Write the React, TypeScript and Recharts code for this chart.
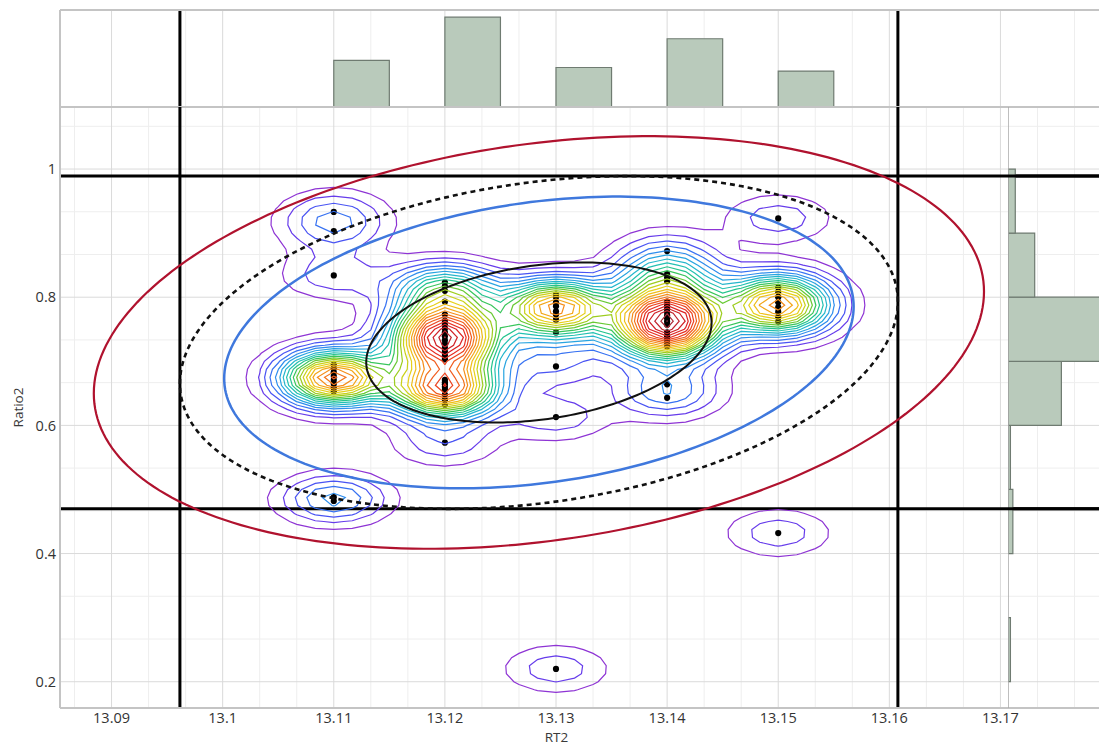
import React from "react";
import {
  ComposedChart,
  Scatter,
  XAxis,
  YAxis,
  CartesianGrid,
  ReferenceLine,
  ReferenceArea,
} from "recharts";

// ---------------- data ----------------
const RT2_COLUMNS = [13.11, 13.12, 13.13, 13.14, 13.15];

const RATIO2_AT_1311 = [0.933, 0.903, 0.834, 0.695, 0.689, 0.683, 0.677, 0.671, 0.665, 0.659, 0.653, 0.488, 0.482];
const RATIO2_AT_1312 = [
  0.823, 0.817, 0.81, 0.793, 0.773, 0.763, 0.757, 0.751, 0.745, 0.739, 0.733, 0.727, 0.721, 0.715, 0.709, 0.703,
  0.671, 0.667, 0.664, 0.66, 0.656, 0.648, 0.64, 0.632, 0.573,
];
const RATIO2_AT_1313 = [0.804, 0.8, 0.792, 0.786, 0.778, 0.773, 0.765, 0.745, 0.692, 0.613, 0.22];
const RATIO2_AT_1314 = [
  0.872, 0.836, 0.831, 0.825, 0.793, 0.787, 0.782, 0.777, 0.772, 0.767, 0.762, 0.757, 0.745, 0.739, 0.734, 0.729,
  0.723, 0.664, 0.643,
];
const RATIO2_AT_1315 = [0.923, 0.815, 0.808, 0.8, 0.792, 0.784, 0.777, 0.769, 0.762, 0.432];
const RATIO2_BY_COLUMN = [RATIO2_AT_1311, RATIO2_AT_1312, RATIO2_AT_1313, RATIO2_AT_1314, RATIO2_AT_1315];

// marginal histogram along RT2 (bins start at each value)
const RT2_BIN_START = [13.11, 13.12, 13.13, 13.14, 13.15];
const RT2_BIN_COUNT = [13, 25, 11, 19, 10];
const RT2_BIN_WIDTH = 0.005;

// marginal histogram along Ratio2
const RATIO2_BIN_LOW = [0.2, 0.3, 0.4, 0.5, 0.6, 0.7, 0.8, 0.9];
const RATIO2_BIN_COUNT = [1, 0, 2, 1, 22, 38, 11, 3];
const RATIO2_BIN_WIDTH = 0.1;

// axes
const X_TICKS = [13.09, 13.1, 13.11, 13.12, 13.13, 13.14, 13.15, 13.16, 13.17];
const X_TICK_LABELS = ["13.09", "13.1", "13.11", "13.12", "13.13", "13.14", "13.15", "13.16", "13.17"];
const Y_TICKS = [0.2, 0.4, 0.6, 0.8, 1];
const Y_TICK_LABELS = ["0.2", "0.4", "0.6", "0.8", "1"];
const X_DOMAIN: [number, number] = [13.08536, 13.17887];
const Y_DOMAIN: [number, number] = [0.159, 1.0968];
const TOP_HIST_DOMAIN: [number, number] = [0, 27];
const RIGHT_HIST_DOMAIN: [number, number] = [0, 37.5];

// confidence ellipses (probability levels) and limit box
const ELLIPSE_LEVELS = [
  { p: 0.99, stroke: "#b0122e", width: 2.2, dash: undefined as string | undefined },
  { p: 0.95, stroke: "#111111", width: 2.6, dash: "5 4" },
  { p: 0.9, stroke: "#3f78dd", width: 2.5, dash: undefined },
  { p: 0.5, stroke: "#111111", width: 2, dash: undefined },
];
const LIMIT_PROB = 0.95;

// density contours: spacing given as a fraction of one kernel's peak height
const LEVEL_STEP = 1 / 2.75;
const BANDWIDTH_SCALE = 0.24;
const GRID_X0 = 13.08;
const GRID_DX = 0.01 / 6;
const GRID_NX = 64;
const GRID_Y0 = 0.1;
const GRID_DY = 0.0125;
const GRID_NY = 85;
const CONTOUR_COLORS = [
  "#8e34d4", "#5a3ff2", "#3a68f4", "#2e8cee", "#27aadc", "#22bfc0", "#22c492", "#3cc550", "#86cb22", "#c6d11a",
  "#ead01a", "#f2b41a", "#f5921a", "#f3721c", "#f0521f", "#e83222", "#dc2224", "#cc2028", "#b32a36", "#9c3a4c",
];

// ---------------- layout ----------------
const W = 1099;
const H = 746;
const PLOT_LEFT = 60;
const PLOT_TOP = 107;
const TOP_PANEL_TOP = 10;
const X_AXIS_H = 38;
const RIGHT_HIST_LEFT = 1008;
const FONT = "'Open Sans', 'Noto Sans', sans-serif";

type Pt = { x: number; y: number };

const POINTS: Pt[] = RT2_COLUMNS.flatMap((x, i) => RATIO2_BY_COLUMN[i].map((y) => ({ x, y })));

// ---------------- statistics ----------------
function summary(pts: Pt[]) {
  const n = pts.length;
  const mx = pts.reduce((s, p) => s + p.x, 0) / n;
  const my = pts.reduce((s, p) => s + p.y, 0) / n;
  let sxx = 0, syy = 0, sxy = 0;
  for (const p of pts) {
    sxx += (p.x - mx) ** 2;
    syy += (p.y - my) ** 2;
    sxy += (p.x - mx) * (p.y - my);
  }
  const sx = Math.sqrt(sxx / (n - 1));
  const sy = Math.sqrt(syy / (n - 1));
  const rho = sxy / (n - 1) / (sx * sy);
  return { mx, my, sx, sy, rho };
}

const STATS = summary(POINTS);
const chiRadius = (p: number) => Math.sqrt(-2 * Math.log(1 - p));

function ellipsePoints(p: number): Pt[] {
  const { mx, my, sx, sy, rho } = STATS;
  const k = chiRadius(p);
  const c = Math.sqrt(1 - rho * rho);
  const out: Pt[] = [];
  for (let i = 0; i <= 240; i++) {
    const t = (i / 240) * Math.PI * 2;
    out.push({ x: mx + k * sx * Math.cos(t), y: my + k * sy * (rho * Math.cos(t) + c * Math.sin(t)) });
  }
  return out;
}

const kLimit = chiRadius(LIMIT_PROB);
const LIMITS = {
  x1: STATS.mx - kLimit * STATS.sx,
  x2: STATS.mx + kLimit * STATS.sx,
  y1: STATS.my - kLimit * STATS.sy,
  y2: STATS.my + kLimit * STATS.sy,
};

// ---------------- kernel density + marching squares ----------------
function densityGrid() {
  const bx = STATS.sx * BANDWIDTH_SCALE;
  const by = STATS.sy * BANDWIDTH_SCALE;
  const xs = Array.from({ length: GRID_NX }, (_, i) => GRID_X0 + i * GRID_DX);
  const ys = Array.from({ length: GRID_NY }, (_, j) => GRID_Y0 + j * GRID_DY);
  const z = ys.map((y) =>
    xs.map((x) => {
      let s = 0;
      for (const p of POINTS) {
        const u = (x - p.x) / bx;
        const v = (y - p.y) / by;
        s += Math.exp(-0.5 * (u * u + v * v));
      }
      return s;
    })
  );
  return { xs, ys, z };
}

function contourLines(xs: number[], ys: number[], z: number[][], level: number): Pt[][] {
  const pos = new Map<string, Pt>();
  const adj = new Map<string, string[]>();
  const link = (a: string, b: string) => {
    if (!adj.has(a)) adj.set(a, []);
    if (!adj.has(b)) adj.set(b, []);
    adj.get(a)!.push(b);
    adj.get(b)!.push(a);
  };
  const cross = (key: string, xa: number, ya: number, va: number, xb: number, yb: number, vb: number) => {
    if (!pos.has(key)) {
      const t = (level - va) / (vb - va);
      pos.set(key, { x: xa + t * (xb - xa), y: ya + t * (yb - ya) });
    }
    return key;
  };
  for (let j = 0; j < ys.length - 1; j++) {
    for (let i = 0; i < xs.length - 1; i++) {
      const v00 = z[j][i], v10 = z[j][i + 1], v11 = z[j + 1][i + 1], v01 = z[j + 1][i];
      const b00 = v00 > level, b10 = v10 > level, b11 = v11 > level, b01 = v01 > level;
      const x0 = xs[i], x1 = xs[i + 1], y0 = ys[j], y1 = ys[j + 1];
      const bottom = b00 !== b10 ? cross(`h${i}_${j}`, x0, y0, v00, x1, y0, v10) : null;
      const right = b10 !== b11 ? cross(`v${i + 1}_${j}`, x1, y0, v10, x1, y1, v11) : null;
      const top = b01 !== b11 ? cross(`h${i}_${j + 1}`, x0, y1, v01, x1, y1, v11) : null;
      const left = b00 !== b01 ? cross(`v${i}_${j}`, x0, y0, v00, x0, y1, v01) : null;
      const found = [bottom, right, top, left].filter((e): e is string => e !== null);
      if (found.length === 2) {
        link(found[0], found[1]);
      } else if (found.length === 4) {
        const centreHigh = (v00 + v10 + v11 + v01) / 4 > level;
        if (b00 === centreHigh) {
          link(bottom!, right!);
          link(top!, left!);
        } else {
          link(bottom!, left!);
          link(right!, top!);
        }
      }
    }
  }
  const visited = new Set<string>();
  const walk = (start: string): Pt[] => {
    const path = [start];
    visited.add(start);
    let prev = "";
    let cur = start;
    for (;;) {
      const nb = adj.get(cur)!;
      const next = nb.find((n) => n !== prev && !visited.has(n));
      if (!next) {
        if (path.length > 2 && nb.includes(start)) path.push(start);
        break;
      }
      visited.add(next);
      path.push(next);
      prev = cur;
      cur = next;
    }
    return path.map((k) => pos.get(k)!);
  };
  const lines: Pt[][] = [];
  for (const [k, nb] of adj) if (nb.length === 1 && !visited.has(k)) lines.push(walk(k));
  for (const k of adj.keys()) if (!visited.has(k)) lines.push(walk(k));
  return lines;
}

function hexToRgb(h: string) {
  return [1, 3, 5].map((o) => parseInt(h.slice(o, o + 2), 16));
}
function paletteAt(t: number) {
  const n = CONTOUR_COLORS.length - 1;
  const f = Math.min(Math.max(t, 0), 1) * n;
  const i = Math.min(Math.floor(f), n - 1);
  const a = hexToRgb(CONTOUR_COLORS[i]);
  const b = hexToRgb(CONTOUR_COLORS[i + 1]);
  const w = f - i;
  const c = a.map((v, k) => Math.round(v + (b[k] - v) * w));
  return `rgb(${c[0]},${c[1]},${c[2]})`;
}

function buildContours() {
  const { xs, ys, z } = densityGrid();
  let zmax = 0;
  for (const row of z) for (const v of row) zmax = Math.max(zmax, v);
  const count = Math.floor(zmax / LEVEL_STEP - 1e-9);
  const out: { color: string; pts: Pt[] }[] = [];
  for (let k = 1; k <= count; k++) {
    const color = paletteAt((k - 1) / (count - 1));
    for (const line of contourLines(xs, ys, z, k * LEVEL_STEP)) out.push({ color, pts: line });
  }
  return out;
}

const CONTOURS = buildContours();
const ELLIPSES = ELLIPSE_LEVELS.map((e) => ({ ...e, pts: ellipsePoints(e.p) }));

// grid values: majors from the tick arrays, minors split each interval in three
function minorValues(majors: number[], domain: [number, number], parts: number) {
  const step = (majors[1] - majors[0]) / parts;
  const out: number[] = [];
  for (let k = -parts * 2; k <= parts * majors.length + parts * 2; k++) {
    if (k % parts === 0) continue;
    const v = majors[0] + k * step;
    if (v > domain[0] && v < domain[1]) out.push(v);
  }
  return out;
}
const X_MINOR = minorValues(X_TICKS, X_DOMAIN, 3);
const Y_MINOR = minorValues(Y_TICKS, Y_DOMAIN, 3);

// ---------------- shapes ----------------
const DataDot = (p: any) => <circle cx={p.cx} cy={p.cy} r={3.1} fill="#000" />;
const NoDot = () => <g />;

const tickStyle = { fill: "#333", fontSize: 14.5, fontFamily: FONT };
const titleStyle = { fill: "#3a3a3a", fontSize: 13.5, fontFamily: FONT };
const BAR_FILL = "#b9cabb";
const BAR_STROKE = "#6f7b71";
const FRAME = "#c4c4c4";

export default function App() {
  return (
    <div style={{ position: "absolute", left: 0, top: 0, width: W, height: H, background: "#fff", fontFamily: FONT }}>
      {/* main scatter panel */}
      <div style={{ position: "absolute", left: 0, top: 0 }}>
        <ComposedChart width={W} height={H} margin={{ top: PLOT_TOP, right: 0, bottom: 0, left: 0 }}>
          <CartesianGrid horizontalValues={Y_MINOR} verticalValues={X_MINOR} stroke="#eeeeee" />
          <CartesianGrid horizontalValues={Y_TICKS} verticalValues={X_TICKS} stroke="#dadada" />
          <XAxis
            type="number"
            dataKey="x"
            domain={X_DOMAIN}
            allowDataOverflow
            ticks={X_TICKS}
            interval={0}
            tickFormatter={(v: number) => X_TICK_LABELS[X_TICKS.indexOf(v)] ?? String(v)}
            height={X_AXIS_H}
            tickLine={false}
            tickSize={3}
            tickMargin={2}
            axisLine={{ stroke: FRAME, strokeWidth: 2 }}
            tick={tickStyle}
            label={{ value: "RT2", position: "insideBottom", offset: 4.5, dx: -23, style: titleStyle }}
          />
          <YAxis
            type="number"
            dataKey="y"
            domain={Y_DOMAIN}
            allowDataOverflow
            ticks={Y_TICKS}
            interval={0}
            tickFormatter={(v: number) => Y_TICK_LABELS[Y_TICKS.indexOf(v)] ?? String(v)}
            width={PLOT_LEFT}
            tickLine={false}
            tickSize={2}
            tickMargin={2}
            axisLine={{ stroke: FRAME, strokeWidth: 2 }}
            tick={tickStyle}
            label={{
              value: "Ratio2",
              angle: -90,
              position: "insideLeft",
              offset: 18,
              style: { ...titleStyle, textAnchor: "middle" },
            }}
          />
          <Scatter data={POINTS} shape={DataDot} isAnimationActive={false} legendType="none" />
          {CONTOURS.map((c, i) => (
            <Scatter
              key={`contour-${i}`}
              data={c.pts}
              shape={NoDot}
              fill={c.color}
              line={{ stroke: c.color, strokeWidth: 1.2 }}
              isAnimationActive={false}
              legendType="none"
            />
          ))}
          {ELLIPSES.map((e, i) => (
            <Scatter
              key={`ellipse-${i}`}
              data={e.pts}
              shape={NoDot}
              fill={e.stroke}
              line={{ stroke: e.stroke, strokeWidth: e.width, strokeDasharray: e.dash }}
              isAnimationActive={false}
              legendType="none"
            />
          ))}
          <ReferenceLine y={Y_DOMAIN[1]} stroke={FRAME} strokeWidth={2} />
          <ReferenceLine x={LIMITS.x1} stroke="#000" strokeWidth={3} />
          <ReferenceLine x={LIMITS.x2} stroke="#000" strokeWidth={3} />
          <ReferenceLine y={LIMITS.y1} stroke="#000" strokeWidth={3} />
          <ReferenceLine y={LIMITS.y2} stroke="#000" strokeWidth={3} />
        </ComposedChart>
      </div>

      {/* top marginal histogram */}
      <div style={{ position: "absolute", left: 0, top: 0 }}>
        <ComposedChart width={W} height={PLOT_TOP} margin={{ top: TOP_PANEL_TOP, right: 0, bottom: 0, left: PLOT_LEFT }}>
          <CartesianGrid horizontal={false} verticalValues={X_MINOR} stroke="#eeeeee" />
          <CartesianGrid horizontal={false} verticalValues={X_TICKS} stroke="#dadada" />
          <XAxis type="number" dataKey="x" domain={X_DOMAIN} allowDataOverflow hide />
          <YAxis type="number" dataKey="y" domain={TOP_HIST_DOMAIN} allowDataOverflow hide />
          {RT2_BIN_START.map((x, i) => (
            <ReferenceArea
              key={`tb-${i}`}
              x1={x}
              x2={x + RT2_BIN_WIDTH}
              y1={0}
              y2={RT2_BIN_COUNT[i]}
              fill={BAR_FILL}
              fillOpacity={1}
              stroke={BAR_STROKE}
              strokeWidth={1.2}
              ifOverflow="hidden"
            />
          ))}
          <ReferenceLine x={LIMITS.x1} stroke="#000" strokeWidth={3} />
          <ReferenceLine x={LIMITS.x2} stroke="#000" strokeWidth={3} />
          <ReferenceLine x={X_DOMAIN[0]} stroke={FRAME} strokeWidth={2} />
          <ReferenceLine y={TOP_HIST_DOMAIN[1]} stroke={FRAME} strokeWidth={2} />
          <ReferenceLine y={0} stroke={FRAME} strokeWidth={2} />
        </ComposedChart>
      </div>

      {/* right marginal histogram */}
      <div style={{ position: "absolute", left: RIGHT_HIST_LEFT, top: 0 }}>
        <ComposedChart
          width={W - RIGHT_HIST_LEFT}
          height={H}
          margin={{ top: PLOT_TOP, right: 0, bottom: X_AXIS_H, left: 0 }}
        >
          <XAxis type="number" dataKey="x" domain={RIGHT_HIST_DOMAIN} allowDataOverflow hide />
          <YAxis type="number" dataKey="y" domain={Y_DOMAIN} allowDataOverflow hide />
          {RATIO2_BIN_LOW.map((lo, i) =>
            RATIO2_BIN_COUNT[i] > 0 ? (
              <ReferenceArea
                key={`rb-${i}`}
                x1={0}
                x2={RATIO2_BIN_COUNT[i]}
                y1={lo}
                y2={lo + RATIO2_BIN_WIDTH}
                fill={BAR_FILL}
                fillOpacity={1}
                stroke={BAR_STROKE}
                strokeWidth={1.2}
                ifOverflow="hidden"
              />
            ) : null
          )}
          <ReferenceLine x={0} stroke="#a8a8a8" strokeWidth={1.5} />
          <ReferenceLine y={LIMITS.y1} stroke="#000" strokeWidth={3} />
          <ReferenceLine y={LIMITS.y2} stroke="#000" strokeWidth={3} />
        </ComposedChart>
      </div>
    </div>
  );
}
